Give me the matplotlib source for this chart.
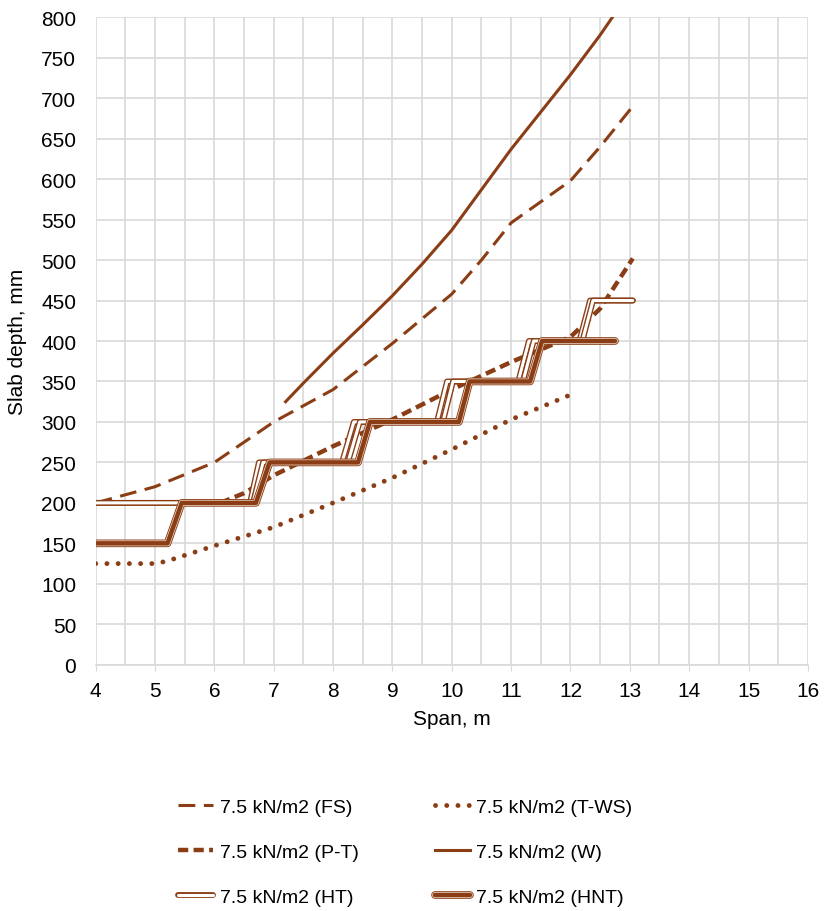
import matplotlib.pyplot as plt
import matplotlib.patheffects as pe
from matplotlib.ticker import MultipleLocator

plt.rcParams['font.family'] = ['Liberation Sans', 'DejaVu Sans']

BROWN = '#8B3E15'

# span (m) vs slab depth (mm)
fs_x = [4, 5, 6, 7, 8, 9, 10, 10.5, 11, 11.5, 12, 12.5, 13.05]
fs_y = [200, 220, 250, 300, 340, 397, 458, 500, 546, 572, 598, 640, 690]

pt_x = [6.1, 6.5, 7, 8, 9, 10, 11, 12, 12.5, 13.05]
pt_y = [200, 212, 234, 270, 303, 340, 374, 405, 440, 502]

tws_x = [4, 5, 5.2, 6, 7, 8, 9, 10, 11, 11.95]
tws_y = [125, 125, 128, 147, 170, 200, 231, 266, 303, 332]

w_x = [7.2, 7.5, 8, 8.5, 9, 9.5, 10, 10.5, 11, 11.5, 12, 12.5, 12.8]
w_y = [325, 348, 385, 420, 456, 495, 537, 587, 637, 683, 729, 778, 810]

ht_x = [4, 6.6, 6.75, 8.15, 8.35, 9.75, 9.92, 11.12, 11.3, 12.15, 12.33, 13.05]
ht_y = [200, 200, 250, 250, 300, 300, 350, 350, 400, 400, 450, 450]

ht2_x = [4, 6.65, 6.82, 8.25, 8.45, 9.85, 10.02, 11.2, 11.38, 12.2, 12.38, 13.05]
ht2_y = [200, 200, 250, 250, 300, 300, 350, 350, 400, 400, 450, 450]

hnt_x = [4, 5.21, 5.45, 6.7, 6.93, 8.42, 8.62, 10.12, 10.3, 11.32, 11.52, 12.75]
hnt_y = [150, 150, 200, 200, 250, 250, 300, 300, 350, 350, 400, 400]

fig = plt.figure(figsize=(8.32, 9.12), dpi=100)
ax = fig.add_axes([0.115, 0.27, 0.856, 0.71])

ht_fx = [pe.Stroke(linewidth=4.2, foreground=BROWN, capstyle='round'),
         pe.Stroke(linewidth=2.2, foreground='white', capstyle='round')]
hnt_fx = [pe.Stroke(linewidth=5.5, foreground=BROWN, capstyle='round'),
          pe.Stroke(linewidth=4.2, foreground='#f0ddd0', capstyle='round'),
          pe.Stroke(linewidth=3.2, foreground=BROWN, capstyle='round')]

l_fs, = ax.plot(fs_x, fs_y, color=BROWN, lw=2.2, dashes=(5.5, 2.8), label='7.5 kN/m2 (FS)')
l_tws, = ax.plot(tws_x, tws_y, color=BROWN, lw=3.5, linestyle=(0, (0.01, 2.3)),
                 dash_capstyle='round', label='7.5 kN/m2 (T-WS)')
l_pt, = ax.plot(pt_x, pt_y, color=BROWN, lw=3.2, dashes=(2.3, 1.2), label='7.5 kN/m2 (P-T)')
l_w, = ax.plot(w_x, w_y, color=BROWN, lw=2.2, label='7.5 kN/m2 (W)')
l_ht, = ax.plot(ht_x, ht_y, color='white', lw=2.2, path_effects=ht_fx, label='7.5 kN/m2 (HT)')
ax.plot(ht2_x, ht2_y, color='white', lw=2.2, path_effects=ht_fx)
l_hnt, = ax.plot(hnt_x, hnt_y, color=BROWN, lw=3.2, path_effects=hnt_fx, label='7.5 kN/m2 (HNT)')

ax.set_xlim(4, 16)
ax.set_ylim(0, 800)
ax.xaxis.set_major_locator(MultipleLocator(1))
ax.xaxis.set_minor_locator(MultipleLocator(0.5))
ax.yaxis.set_major_locator(MultipleLocator(50))
ax.grid(which='both', color='#d9d9d9', lw=1.2)
ax.set_axisbelow(True)
for s in ['top', 'right', 'left']:
    ax.spines[s].set_visible(False)
ax.spines['bottom'].set_color('#d9d9d9')
ax.spines['bottom'].set_linewidth(1.2)
ax.tick_params(axis='x', which='major', length=4, color='#d9d9d9', labelsize=15, pad=8)
ax.tick_params(axis='x', which='minor', length=0)
ax.tick_params(axis='y', length=0, labelsize=15, pad=14)
ax.set_xlabel('Span, m', fontsize=15, labelpad=6)
ax.set_ylabel('Slab depth, mm', fontsize=15, labelpad=10)

# legend reads row by row: FS, T-WS / P-T, W / HT, HNT
handles = [l_fs, l_pt, l_ht, l_tws, l_w, l_hnt]
fig.legend(handles=handles, labels=[h.get_label() for h in handles],
           loc='lower left', bbox_to_anchor=(178 / 832, 0.006), ncol=2, frameon=False,
           fontsize=14, handlelength=1.8, columnspacing=3.9, labelspacing=1.4,
           handletextpad=0.35, borderpad=0, borderaxespad=0)

fig.savefig('out.png', dpi=100)
